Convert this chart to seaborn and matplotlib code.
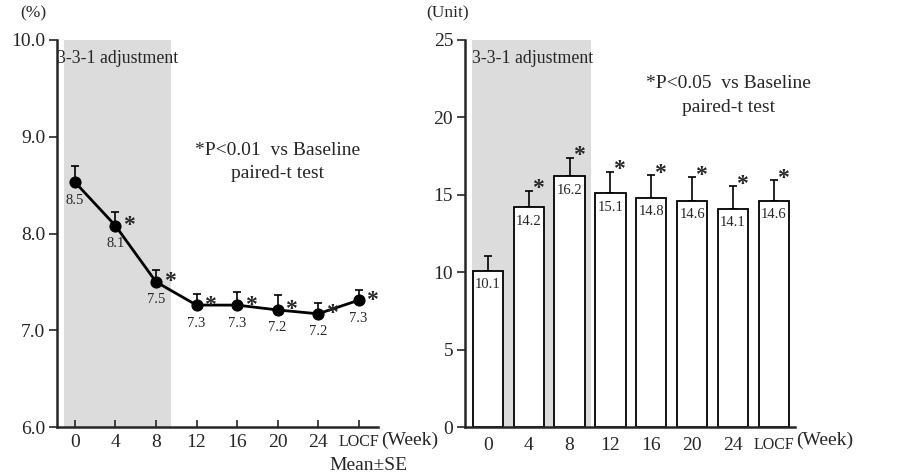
import numpy as np
import pandas as pd
import matplotlib
matplotlib.use("Agg")
import matplotlib.pyplot as plt
from matplotlib.ticker import FormatStrFormatter
import seaborn as sns

# ---- data ----
weeks = ["0", "4", "8", "12", "16", "20", "24", "LOCF"]
hba1c_mean = [8.53, 8.08, 7.50, 7.26, 7.26, 7.21, 7.17, 7.31]
hba1c_se = [0.17, 0.14, 0.12, 0.11, 0.14, 0.15, 0.11, 0.11]
hba1c_labels = ["8.5", "8.1", "7.5", "7.3", "7.3", "7.2", "7.2", "7.3"]
hba1c_sig = [False, True, True, True, True, True, True, True]

dose_mean = [10.1, 14.2, 16.2, 15.1, 14.8, 14.6, 14.1, 14.6]
dose_se = [0.97, 1.07, 1.18, 1.40, 1.46, 1.53, 1.45, 1.34]
dose_labels = ["10.1", "14.2", "16.2", "15.1", "14.8", "14.6", "14.1", "14.6"]
dose_sig = [False, True, True, True, True, True, True, True]

sns.set_theme(style="ticks")
plt.rcParams["font.family"] = ["Liberation Serif", "DejaVu Serif"]
plt.rcParams["axes.linewidth"] = 1.8

fig = plt.figure(figsize=(9.03, 4.76), dpi=100)
ax1 = fig.add_axes([57 / 903, 1 - 427 / 476, (378 - 57) / 903, 387 / 476])
ax2 = fig.add_axes([465 / 903, 1 - 427 / 476, (795 - 465) / 903, 387 / 476])

shade = "#dcdcdc"
fs = 14

# ---------- left panel ----------
idx = np.arange(len(weeks))
df1 = pd.DataFrame({"pos": idx, "val": hba1c_mean})
ax1.axvspan(-0.27, 2.37, color=shade, lw=0, zorder=0)
ax1.errorbar(idx, hba1c_mean, yerr=[np.zeros(len(idx)), hba1c_se], fmt="none",
             ecolor="black", elinewidth=1.2, capsize=3, capthick=1.2, zorder=2)
sns.lineplot(data=df1, x="pos", y="val", ax=ax1, color="black", lw=2,
             marker="o", markersize=8, markeredgecolor="black", zorder=3)
for i, m in enumerate(hba1c_mean):
    ax1.annotate(hba1c_labels[i], (i, m), xytext=(0, -13), textcoords="offset points",
                 ha="center", va="center", fontsize=10.5)
    if hba1c_sig[i]:
        ax1.annotate("*", (i, m), xytext=(10, 0), textcoords="offset points",
                     ha="center", va="center", fontsize=17, fontweight="bold")
ax1.set_xlim(-0.444, 7.48)
ax1.set_ylim(6.0, 10.0)
ax1.set_yticks([6, 7, 8, 9, 10])
ax1.yaxis.set_major_formatter(FormatStrFormatter("%.1f"))
ax1.set_xticks(idx)
ax1.set_xticklabels(weeks)
ax1.tick_params(axis="x", direction="in", length=5, width=1.2, labelsize=fs, pad=5)
ax1.tick_params(axis="y", direction="out", length=6, width=1.2, labelsize=fs, pad=2.5)
ax1.get_xticklabels()[-1].set_fontsize(11.5)
ax1.set_xlabel("")
ax1.set_ylabel("")
ax1.text(-0.44, 0.953, "3-3-1 adjustment", transform=ax1.get_xaxis_transform(),
         ha="left", va="center", fontsize=12.8)
ax1.text(5.0, 0.715, "*P<0.01  vs Baseline", transform=ax1.get_xaxis_transform(),
         ha="center", va="center", fontsize=fs)
ax1.text(5.0, 0.655, "paired-t test", transform=ax1.get_xaxis_transform(),
         ha="center", va="center", fontsize=fs)
sns.despine(ax=ax1)

# ---------- right panel ----------
ax2.axvspan(-0.39, 2.52, color=shade, lw=0, zorder=0)
df2 = pd.DataFrame({"week": weeks, "val": dose_mean})
sns.barplot(data=df2, x="week", y="val", order=weeks, ax=ax2, color="white",
            edgecolor="black", linewidth=1.3, width=0.74, zorder=2, errorbar=None,
            saturation=1)
ax2.errorbar(idx, dose_mean, yerr=[np.zeros(len(idx)), dose_se], fmt="none",
             ecolor="black", elinewidth=1.2, capsize=3, capthick=1.2, zorder=1.5)
for i, (m, s) in enumerate(zip(dose_mean, dose_se)):
    ax2.annotate(dose_labels[i], (i, m), xytext=(0, -10), textcoords="offset points",
                 ha="center", va="center", fontsize=10.5, zorder=4)
    if dose_sig[i]:
        ax2.annotate("*", (i, m + s), xytext=(6.5, 1.5), textcoords="offset points",
                     ha="center", va="center", fontsize=17, fontweight="bold")
ax2.set_xlim(-0.56, 7.52)
ax2.set_ylim(0, 25)
ax2.set_yticks([0, 5, 10, 15, 20, 25])
ax2.tick_params(axis="x", length=0, labelsize=fs, pad=7)
ax2.tick_params(axis="y", direction="out", length=6, width=1.2, labelsize=fs, pad=2.5)
ax2.get_xticklabels()[-1].set_fontsize(11.5)
ax2.set_xlabel("")
ax2.set_ylabel("")
ax2.text(-0.39, 0.953, "3-3-1 adjustment", transform=ax2.get_xaxis_transform(),
         ha="left", va="center", fontsize=12.8)
ax2.text(5.9, 0.888, "*P<0.05  vs Baseline", transform=ax2.get_xaxis_transform(),
         ha="center", va="center", fontsize=fs)
ax2.text(5.9, 0.826, "paired-t test", transform=ax2.get_xaxis_transform(),
         ha="center", va="center", fontsize=fs)
sns.despine(ax=ax2)

# ---------- figure texts ----------
fig.text(33 / 903, 1 - 13 / 476, "(%)", ha="center", va="center", fontsize=12.5)
fig.text(448 / 903, 1 - 13 / 476, "(Unit)", ha="center", va="center", fontsize=12.5)
fig.text(381 / 903, 1 - 440 / 476, "(Week)", ha="left", va="center", fontsize=fs)
fig.text(796 / 903, 1 - 440 / 476, "(Week)", ha="left", va="center", fontsize=fs)
fig.text(368 / 903, 1 - 465 / 476, "Mean\u00b1SE", ha="center", va="center", fontsize=fs)

fig.savefig("out.png", dpi=100)
